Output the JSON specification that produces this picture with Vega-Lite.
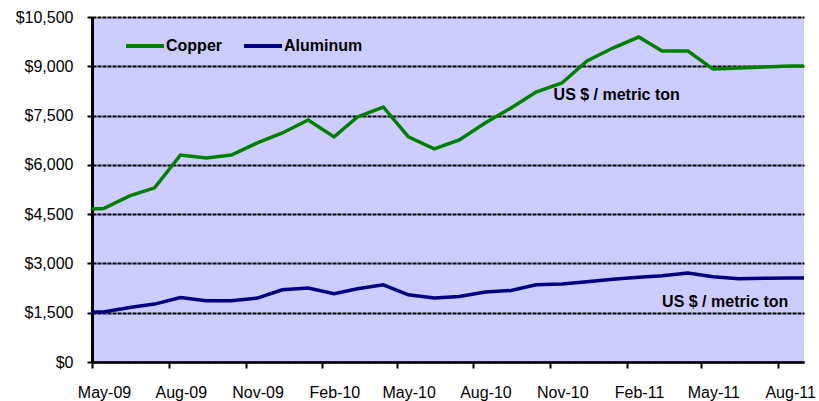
{
  "$schema": "https://vega.github.io/schema/vega-lite/v6.json",
  "width": 712,
  "height": 345,
  "autosize": {"type": "none"},
  "padding": {"left": 92, "top": 17, "right": 15, "bottom": 39},
  "background": "#FFFFFF",
  "config": {
    "view": {"fill": "#CCCCFF", "stroke": null},
    "font": "Liberation Sans"
  },
  "datasets": {
    "prices": [
      {"date": "2009-05-01", "metal": "Copper", "price": 4660},
      {"date": "2009-05-15", "metal": "Copper", "price": 4670},
      {"date": "2009-06-15", "metal": "Copper", "price": 5055},
      {"date": "2009-07-15", "metal": "Copper", "price": 5300},
      {"date": "2009-08-15", "metal": "Copper", "price": 6300},
      {"date": "2009-09-15", "metal": "Copper", "price": 6210},
      {"date": "2009-10-15", "metal": "Copper", "price": 6300},
      {"date": "2009-11-15", "metal": "Copper", "price": 6667},
      {"date": "2009-12-15", "metal": "Copper", "price": 6970},
      {"date": "2010-01-15", "metal": "Copper", "price": 7366},
      {"date": "2010-02-15", "metal": "Copper", "price": 6850},
      {"date": "2010-03-15", "metal": "Copper", "price": 7457},
      {"date": "2010-04-15", "metal": "Copper", "price": 7761},
      {"date": "2010-05-15", "metal": "Copper", "price": 6850},
      {"date": "2010-06-15", "metal": "Copper", "price": 6484},
      {"date": "2010-07-15", "metal": "Copper", "price": 6758},
      {"date": "2010-08-15", "metal": "Copper", "price": 7275},
      {"date": "2010-09-15", "metal": "Copper", "price": 7731},
      {"date": "2010-10-15", "metal": "Copper", "price": 8217},
      {"date": "2010-11-15", "metal": "Copper", "price": 8491},
      {"date": "2010-12-15", "metal": "Copper", "price": 9160},
      {"date": "2011-01-15", "metal": "Copper", "price": 9555},
      {"date": "2011-02-15", "metal": "Copper", "price": 9889},
      {"date": "2011-03-15", "metal": "Copper", "price": 9464},
      {"date": "2011-04-15", "metal": "Copper", "price": 9464},
      {"date": "2011-05-15", "metal": "Copper", "price": 8916},
      {"date": "2011-06-15", "metal": "Copper", "price": 8950},
      {"date": "2011-07-15", "metal": "Copper", "price": 8980},
      {"date": "2011-08-15", "metal": "Copper", "price": 9007},
      {"date": "2011-09-01", "metal": "Copper", "price": 9007},
      {"date": "2009-05-01", "metal": "Aluminum", "price": 1520},
      {"date": "2009-05-15", "metal": "Aluminum", "price": 1520},
      {"date": "2009-06-15", "metal": "Aluminum", "price": 1660},
      {"date": "2009-07-15", "metal": "Aluminum", "price": 1763},
      {"date": "2009-08-15", "metal": "Aluminum", "price": 1964},
      {"date": "2009-09-15", "metal": "Aluminum", "price": 1864},
      {"date": "2009-10-15", "metal": "Aluminum", "price": 1864},
      {"date": "2009-11-15", "metal": "Aluminum", "price": 1946},
      {"date": "2009-12-15", "metal": "Aluminum", "price": 2198},
      {"date": "2010-01-15", "metal": "Aluminum", "price": 2250},
      {"date": "2010-02-15", "metal": "Aluminum", "price": 2076},
      {"date": "2010-03-15", "metal": "Aluminum", "price": 2228},
      {"date": "2010-04-15", "metal": "Aluminum", "price": 2350},
      {"date": "2010-05-15", "metal": "Aluminum", "price": 2046},
      {"date": "2010-06-15", "metal": "Aluminum", "price": 1946},
      {"date": "2010-07-15", "metal": "Aluminum", "price": 1994},
      {"date": "2010-08-15", "metal": "Aluminum", "price": 2128},
      {"date": "2010-09-15", "metal": "Aluminum", "price": 2177},
      {"date": "2010-10-15", "metal": "Aluminum", "price": 2350},
      {"date": "2010-11-15", "metal": "Aluminum", "price": 2371},
      {"date": "2010-12-15", "metal": "Aluminum", "price": 2441},
      {"date": "2011-01-15", "metal": "Aluminum", "price": 2517},
      {"date": "2011-02-15", "metal": "Aluminum", "price": 2578},
      {"date": "2011-03-15", "metal": "Aluminum", "price": 2624},
      {"date": "2011-04-15", "metal": "Aluminum", "price": 2706},
      {"date": "2011-05-15", "metal": "Aluminum", "price": 2593},
      {"date": "2011-06-15", "metal": "Aluminum", "price": 2532},
      {"date": "2011-07-15", "metal": "Aluminum", "price": 2547},
      {"date": "2011-08-15", "metal": "Aluminum", "price": 2554},
      {"date": "2011-09-01", "metal": "Aluminum", "price": 2554}
    ],
    "notes": [
      {"date": "2010-11-05", "price": 8126, "label": "US $ / metric ton"},
      {"date": "2011-03-15", "price": 1833, "label": "US $ / metric ton"}
    ]
  },
  "layer": [
    {
      "data": {"name": "prices"},
      "mark": {"type": "line", "strokeWidth": 3.5, "clip": true},
      "encoding": {
        "x": {
          "field": "date",
          "type": "temporal",
          "scale": {
            "type": "utc",
            "domain": [
              {"year": 2009, "month": 5, "date": 1, "utc": true},
              {"year": 2011, "month": 9, "date": 1, "utc": true}
            ]
          },
          "axis": {
            "title": null,
            "format": "%b-%y",
            "values": [
              {"year": 2009, "month": 5, "date": 1, "utc": true},
              {"year": 2009, "month": 8, "date": 1, "utc": true},
              {"year": 2009, "month": 11, "date": 1, "utc": true},
              {"year": 2010, "month": 2, "date": 1, "utc": true},
              {"year": 2010, "month": 5, "date": 1, "utc": true},
              {"year": 2010, "month": 8, "date": 1, "utc": true},
              {"year": 2010, "month": 11, "date": 1, "utc": true},
              {"year": 2011, "month": 2, "date": 1, "utc": true},
              {"year": 2011, "month": 5, "date": 1, "utc": true},
              {"year": 2011, "month": 8, "date": 1, "utc": true}
            ],
            "grid": false,
            "domainColor": "#000000",
            "domainWidth": 2.5,
            "tickColor": "#000000",
            "tickWidth": 2,
            "tickSize": 6,
            "labelPadding": 16,
            "labelOffset": 12,
            "labelFontSize": 16,
            "labelColor": "#000000",
            "labelFont": "Liberation Sans",
            "labelOverlap": false,
            "labelFlush": false
          }
        },
        "y": {
          "field": "price",
          "type": "quantitative",
          "scale": {"domain": [0, 10500], "nice": false},
          "axis": {
            "title": null,
            "values": [0, 1500, 3000, 4500, 6000, 7500, 9000, 10500],
            "format": "$,.0f",
            "grid": true,
            "gridColor": "#000000",
            "gridWidth": 2,
            "gridDash": [4, 1],
            "domainColor": "#000000",
            "domainWidth": 3,
            "tickColor": "#000000",
            "tickWidth": 2,
            "tickSize": 5,
            "labelPadding": 14,
            "labelFontSize": 16,
            "labelColor": "#000000",
            "labelFont": "Liberation Sans"
          }
        },
        "color": {
          "field": "metal",
          "type": "nominal",
          "scale": {"domain": ["Copper", "Aluminum"], "range": ["#008000", "#000080"]},
          "legend": {
            "title": null,
            "orient": "none",
            "legendX": 32,
            "legendY": 8,
            "direction": "horizontal",
            "padding": 0,
            "symbolType": "stroke",
            "symbolSize": 1444,
            "symbolStrokeWidth": 4,
            "labelOffset": 0,
            "columnPadding": 14,
            "labelFontSize": 16,
            "labelFontWeight": "bold",
            "labelColor": "#000000",
            "labelFont": "Liberation Sans"
          }
        }
      }
    },
    {
      "data": {"name": "notes"},
      "mark": {
        "type": "text",
        "align": "left",
        "baseline": "middle",
        "fontSize": 16,
        "fontWeight": "bold",
        "font": "Liberation Sans",
        "color": "#000000"
      },
      "encoding": {
        "x": {"field": "date", "type": "temporal"},
        "y": {"field": "price", "type": "quantitative"},
        "text": {"field": "label"}
      }
    }
  ]
}
